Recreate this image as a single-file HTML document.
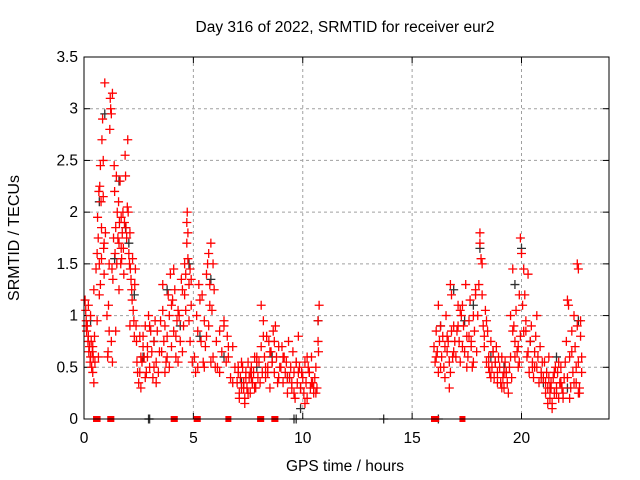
<!DOCTYPE html>
<html><head><meta charset="utf-8"><style>
html,body{margin:0;padding:0;background:#fff;}
svg{display:block;font-family:"Liberation Sans",sans-serif;}
</style></head><body>
<svg id="chart" width="640" height="480" viewBox="0 0 640 480" xmlns="http://www.w3.org/2000/svg">
<rect width="640" height="480" fill="#fff"/>
<text x="345" y="32" text-anchor="middle" font-size="15.5">Day 316 of 2022, SRMTID for receiver eur2</text>
<text x="345" y="471" text-anchor="middle" font-size="15.5">GPS time / hours</text>
<text transform="translate(19,238) rotate(-90)" text-anchor="middle" font-size="16">SRMTID / TECUs</text>
<g id="grid"></g>
<g id="axes"></g>
<g id="black-series"></g>
<g id="red-series"></g>
<rect x="84" y="57" width="525" height="362" fill="none" stroke="#000" stroke-width="1"/>
</svg>
<script>
const xTicks = [0,5,10,15,20];
const yTicks = [0,0.5,1,1.5,2,2.5,3,3.5];
const yTickLabels = ["0","0.5","1","1.5","2","2.5","3","3.5"];
const redT = [0.05,0.08,0.1,0.12,0.15,0.18,0.2,0.22,0.25,0.28,0.3,0.33,0.35,0.38,0.4,0.42,0.45,0.48,0.5,0.3,0.2,0.1,0.4,0.45,
0.55,0.6,0.62,0.65,0.68,0.7,0.72,0.75,0.78,0.8,0.82,0.85,0.88,0.9,0.92,0.95,0.88,0.8,0.75,0.7,0.92,0.98,0.6,0.66,
1.05,1.08,1.1,1.12,1.15,1.18,1.2,1.22,1.25,1.28,1.3,1.32,1.35,1.38,1.4,1.42,1.45,1.48,1.5,1.52,1.55,1.58,1.6,1.62,1.65,1.68,1.7,1.72,1.75,1.78,1.8,1.82,1.85,1.88,1.9,1.92,1.95,1.98,2.0,2.02,2.05,2.08,2.1,2.12,2.15,2.18,2.2,2.22,2.25,2.28,2.3,2.32,2.35,2.38,2.4,2.42,2.45,1.25,1.3,1.6,1.7,2.1,1.15,1.45,
2.5,2.55,2.6,2.65,2.7,2.75,2.8,2.85,2.9,2.95,3.0,3.05,3.1,3.15,3.2,3.25,3.3,3.35,3.4,3.45,2.6,2.7,2.8,3.0,3.2,3.3,2.55,2.9,
3.5,3.55,3.6,3.65,3.7,3.75,3.8,3.85,3.9,3.95,4.0,4.05,4.1,4.15,4.2,4.25,4.3,4.35,4.4,4.45,3.6,3.8,3.9,4.0,4.2,4.3,3.7,4.1,
4.5,4.55,4.6,4.65,4.7,4.72,4.75,4.8,4.85,4.9,4.95,4.6,4.7,4.8,4.5,4.65,4.75,4.85,4.9,
5.05,5.1,5.15,5.2,5.25,5.3,5.35,5.4,5.45,5.5,5.55,5.6,5.65,5.7,5.75,5.8,5.85,5.9,5.95,6.0,5.6,5.7,5.8,5.5,5.2,5.9,5.75,
6.05,6.1,6.2,6.3,6.4,6.5,6.55,6.6,6.7,6.8,6.9,6.2,6.4,6.6,6.8,
7.0,7.05,7.1,7.15,7.2,7.25,7.3,7.35,7.4,7.45,7.5,7.55,7.6,7.65,7.7,7.75,7.8,7.85,7.9,7.95,7.1,7.2,7.3,7.4,7.5,7.6,7.7,7.8,7.05,7.35,7.65,7.9,
8.0,8.05,8.1,8.15,8.2,8.25,8.3,8.35,8.4,8.45,8.5,8.55,8.6,8.65,8.7,8.75,8.8,8.85,8.9,8.95,8.1,8.3,8.5,8.7,8.9,8.2,8.6,8.4,
9.0,9.05,9.1,9.15,9.2,9.25,9.3,9.35,9.4,9.45,9.5,9.55,9.6,9.65,9.7,9.75,9.8,9.85,9.9,9.95,9.1,9.3,9.5,9.7,9.9,9.6,9.8,
10.0,10.05,10.1,10.15,10.2,10.25,10.3,10.35,10.4,10.45,10.5,10.55,10.6,10.65,10.7,10.75,10.1,10.3,10.5,10.7,10.2,10.4,10.6,10.72,
16.0,16.05,16.1,16.15,16.2,16.25,16.3,16.35,16.4,16.45,16.5,16.55,16.6,16.65,16.7,16.75,16.8,16.85,16.9,16.95,16.1,16.3,16.5,16.7,16.9,16.2,16.6,16.8,16.75,
17.0,17.05,17.1,17.15,17.2,17.25,17.3,17.35,17.4,17.45,17.5,17.55,17.6,17.65,17.7,17.75,17.8,17.85,17.9,17.95,17.1,17.3,17.5,17.7,17.9,17.6,17.8,17.2,
18.0,18.05,18.1,18.15,18.2,18.25,18.3,18.35,18.4,18.45,18.5,18.55,18.6,18.65,18.7,18.75,18.8,18.85,18.9,18.95,18.1,18.2,18.3,18.5,18.7,18.9,18.4,18.6,18.8,
19.0,19.05,19.1,19.15,19.2,19.25,19.3,19.35,19.4,19.45,19.5,19.55,19.6,19.65,19.7,19.75,19.8,19.85,19.9,19.95,19.1,19.3,19.5,19.7,19.9,19.2,19.6,19.85,19.95,
20.0,20.05,20.1,20.15,20.2,20.25,20.3,20.35,20.4,20.45,20.5,20.55,20.6,20.65,20.7,20.75,20.8,20.85,20.9,20.95,20.1,20.3,20.5,20.7,20.9,20.2,20.6,
21.0,21.05,21.1,21.15,21.2,21.25,21.3,21.35,21.4,21.45,21.5,21.55,21.6,21.65,21.7,21.75,21.8,21.85,21.9,21.95,21.1,21.2,21.3,21.4,21.5,21.6,21.7,21.8,21.9,21.25,21.35,
22.0,22.05,22.1,22.15,22.2,22.25,22.3,22.35,22.4,22.45,22.5,22.55,22.6,22.65,22.7,22.75,22.1,22.3,22.5,22.7,22.2,22.4,22.6,22.55,22.6,22.65,22.75];
const redV = [1.15,1.05,0.95,0.85,0.9,0.75,0.8,0.65,0.7,0.55,0.6,0.75,0.5,0.65,0.45,0.6,0.35,0.8,0.55,1.0,1.1,0.9,0.7,1.25,
1.45,1.6,1.95,1.75,2.2,1.5,2.25,2.45,2.1,1.85,2.7,2.9,2.5,1.65,1.7,3.25,2.15,1.55,1.3,1.2,1.4,1.8,0.95,0.6,
1.0,0.6,0.65,1.1,1.5,2.8,3.1,3.0,2.95,1.45,3.15,1.35,1.75,2.45,2.2,1.6,1.85,2.35,1.5,2.0,1.75,2.1,1.7,1.9,2.3,1.5,1.95,1.55,1.8,2.0,1.65,1.4,1.9,2.55,2.35,1.85,1.75,2.05,2.7,2.0,1.6,1.5,1.8,1.45,1.35,1.25,1.15,1.55,1.05,0.95,0.8,1.3,1.45,0.9,0.75,0.55,0.45,0.75,0.55,1.25,1.65,0.9,0.85,0.85,
0.35,0.45,0.3,0.55,0.8,0.6,0.9,0.45,0.7,1.0,0.5,0.85,0.65,0.4,0.75,0.95,0.55,0.85,0.45,0.65,0.6,0.7,0.4,0.9,0.5,0.35,0.8,0.6,
0.95,0.65,1.05,0.75,0.9,0.55,0.8,1.2,1.0,1.4,0.7,1.15,0.85,1.25,0.6,0.95,0.55,1.0,0.75,1.35,1.3,0.6,0.5,1.1,0.8,1.05,0.45,1.45,
1.25,0.9,1.5,1.4,1.9,2.0,1.55,1.3,1.45,1.1,0.55,1.2,1.7,0.95,0.65,1.05,1.8,0.75,1.35,
0.6,0.45,1.0,0.85,1.3,1.15,0.75,1.2,0.55,0.95,0.7,1.4,1.5,1.6,1.3,1.7,1.05,0.6,1.25,0.5,0.8,0.9,0.55,0.5,0.5,1.5,1.1,
0.75,0.5,0.45,0.65,0.9,0.55,0.8,0.6,0.4,0.7,0.5,0.85,0.95,0.7,0.35,
0.35,0.45,0.25,0.4,0.3,0.5,0.35,0.2,0.45,0.3,0.55,0.4,0.25,0.5,0.35,0.45,0.6,0.3,0.55,0.4,0.2,0.55,0.3,0.4,0.25,0.45,0.35,0.3,0.5,0.15,0.4,0.6,
0.55,0.35,0.7,0.45,0.95,0.6,0.4,0.8,0.5,0.75,0.3,0.65,0.55,0.85,0.45,0.9,0.6,0.35,0.7,0.5,1.1,0.5,0.65,0.75,0.4,0.8,0.55,0.45,
0.5,0.7,0.35,0.6,0.45,0.55,0.25,0.75,0.4,0.5,0.3,0.65,0.45,0.2,0.55,0.35,0.8,0.5,0.3,0.45,0.6,0.4,0.35,0.55,0.3,0.25,0.45,
0.4,0.25,0.55,0.35,0.2,0.5,0.45,0.3,0.6,0.35,0.25,0.4,0.5,0.3,0.75,1.1,0.15,0.45,0.3,0.95,0.6,0.35,0.25,0.65,
0.7,0.55,0.85,0.65,0.45,0.75,0.9,0.6,0.8,0.5,0.7,1.0,0.65,0.75,0.55,1.3,0.85,0.6,0.9,0.75,0.6,0.5,0.4,0.3,0.65,1.1,0.8,1.2,0.45,
0.6,0.85,1.1,0.75,0.55,1.0,0.7,0.9,0.65,1.3,0.8,0.6,0.95,1.15,0.7,0.5,1.0,0.85,1.2,0.65,0.9,1.1,0.5,0.75,1.25,0.8,0.55,1.05,
1.0,1.3,1.8,1.55,1.5,0.9,0.7,1.05,0.55,0.85,0.6,0.45,0.75,0.5,0.65,0.4,0.55,0.7,0.45,0.6,1.7,1.2,0.8,0.5,0.65,0.35,0.95,0.4,0.55,
0.5,0.35,0.6,0.4,0.3,0.55,0.45,0.35,0.25,0.5,0.6,0.4,1.45,0.9,0.75,1.05,0.65,0.5,1.2,0.8,0.3,0.45,1.0,0.6,0.55,0.45,0.85,0.7,1.75,
1.6,1.1,0.85,1.2,0.95,0.6,1.4,0.45,0.75,0.9,0.55,0.4,0.65,0.8,0.5,0.6,0.35,0.7,0.45,0.55,1.45,0.65,0.5,1.0,0.4,0.85,0.5,
0.4,0.55,0.25,0.45,0.3,0.6,0.2,0.35,0.15,0.4,0.25,0.5,0.3,0.45,0.2,0.35,0.5,0.3,0.25,0.4,0.35,0.15,0.3,0.1,0.45,0.25,0.55,0.35,0.2,0.4,0.3,
0.55,0.75,0.4,1.1,0.6,0.3,0.85,0.45,1.0,0.7,0.35,0.9,0.55,0.25,0.8,0.45,1.15,0.65,0.5,0.95,0.2,0.35,0.25,1.5,1.45,0.3,0.6];
const blackT = [0.3,0.7,0.95,1.4,1.6,1.9,2.05,2.3,2.7,3.2,3.8,4.4,4.8,5.3,5.8,6.4,7.2,7.9,8.6,9.3,9.9,10.7,16.3,16.9,17.4,17.8,18.1,18.6,19.2,19.7,20.0,20.4,21.0,21.6,22.1,22.6];
const blackV = [0.95,2.1,2.95,1.55,2.3,1.85,1.7,1.2,0.6,0.75,1.25,0.9,1.5,0.8,1.35,0.6,0.35,0.5,0.6,0.4,0.1,0.95,0.9,1.25,0.95,1.1,1.65,0.6,0.5,1.3,1.65,0.75,0.35,0.6,0.3,0.95];
const baseRedT = [0.55,0.62,1.2,1.25,4.1,4.15,5.15,5.2,6.6,8.05,8.1,8.7,8.75,16.0,16.05,16.1,17.3];
const baseBlackT = [2.95,3.0,9.6,9.7,13.7,16.2];

const X0=84,X1=609,Y0=419,Y1=57;
function xs(t){return X0+(t/24)*(X1-X0);}
function ys(v){return Y0-(v/3.5)*(Y0-Y1);}
const NS="http://www.w3.org/2000/svg";
const grid=document.getElementById('grid'), axes=document.getElementById('axes');
function mk(tag,attrs,parent){const e=document.createElementNS(NS,tag);for(const k in attrs)e.setAttribute(k,attrs[k]);parent.appendChild(e);return e;}
xTicks.forEach(t=>{
  const x=xs(t);
  if(t>0){const g=mk('line',{x1:x,x2:x,y1:Y1,y2:Y0,stroke:'#a0a0a0','stroke-dasharray':'3,3'},grid);
  
  }
  const tk=mk('line',{x1:x,x2:x,y1:Y0,y2:Y0-6,stroke:'#000'},axes);
  
  
  const tk2=mk('line',{x1:x,x2:x,y1:Y1,y2:Y1+6,stroke:'#000'},axes);
  
  
  const lb=mk('text',{x:x,y:443,'text-anchor':'middle','font-size':'15.5'},axes);
  lb.textContent=String(t);
  
  
});
yTicks.forEach((v,i)=>{
  const y=ys(v);
  if(v>0&&v<3.5){const g=mk('line',{x1:X0,x2:X1,y1:y,y2:y,stroke:'#a0a0a0','stroke-dasharray':'3,3'},grid);
  
  }
  const tk=mk('line',{x1:X0,x2:X0+6,y1:y,y2:y,stroke:'#000'},axes);
  
  
  const tk2=mk('line',{x1:X1,x2:X1-6,y1:y,y2:y,stroke:'#000'},axes);
  
  
  const lb=mk('text',{x:78,y:y+5,'text-anchor':'end','font-size':'15.5'},axes);
  lb.textContent=yTickLabels[i];
  
  
});
function plus(parent,t,v,color,name){
  const x=xs(t),y=ys(v);
  const p=mk('path',{d:`M${x-4.5},${y}H${x+4.5}M${x},${y-4.5}V${y+4.5}`,stroke:color,'stroke-width':'1.3',fill:'none'},parent);
  
  
}
const bg=document.getElementById('black-series'), rg=document.getElementById('red-series');
blackT.forEach((t,i)=>plus(bg,t,blackV[i],'#303030','black-point'));
baseBlackT.forEach(t=>plus(bg,t,0,'#303030','black-base-point'));
redT.forEach((t,i)=>plus(rg,t,redV[i],'#ff0000','red-point'));
baseRedT.forEach(t=>{
  const x=xs(t);
  const r=mk('rect',{x:x-3,y:Y0-3,width:6,height:6,fill:'#ff0000'},rg);
  
  
});
</script>
</body></html>
